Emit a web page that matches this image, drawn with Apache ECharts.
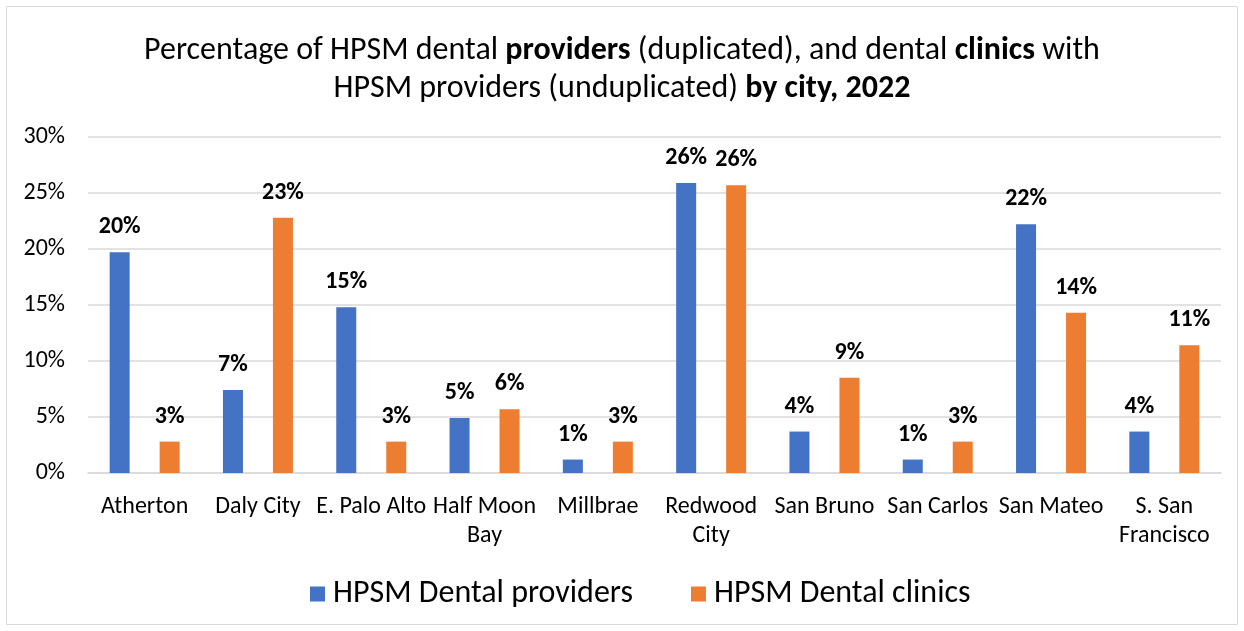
<!DOCTYPE html>
<html>
<head>
<meta charset="utf-8">
<script src="https://cdn.jsdelivr.net/npm/echarts@6/dist/echarts.min.js"></script>
<style>
  html, body { margin: 0; padding: 0; background: #fff; }
  #chart { width: 1244px; height: 631px; }
</style>
</head>
<body>
<div id="chart"></div>
<script>
// cities on the x axis
const cities = ['Atherton', 'Daly City', 'E. Palo Alto', 'Half Moon\nBay', 'Millbrae',
  'Redwood\nCity', 'San Bruno', 'San Carlos', 'San Mateo', 'S. San\nFrancisco']
// percentages
const providers = [19.7, 7.4, 14.8, 4.9, 1.2, 25.9, 3.7, 1.2, 22.2, 3.7]
const clinics = [2.8, 22.8, 2.8, 5.7, 2.8, 25.7, 8.5, 2.8, 14.3, 11.4]
const yTicks = [0, 5, 10, 15, 20, 25, 30]

const font = "Carlito, 'Liberation Sans Narrow', 'Open Sans', sans-serif"

const chart = echarts.init(document.getElementById('chart'))

const barLabel = {
  show: true,
  position: 'top',
  distance: 13,
  fontFamily: font,
  fontSize: 24,
  fontWeight: 'bold',
  color: '#000',
  formatter: p => Math.round(p.value) + '%'
}

chart.setOption({
  animation: false,
  textStyle: { fontFamily: font },
  graphic: [{
    type: 'rect',
    shape: { x: 6.5, y: 6.5, width: 1231, height: 618 },
    style: { fill: 'none', stroke: '#d9d9d9', lineWidth: 1 }
  }],
  title: {
    text: 'Percentage of HPSM dental {b|providers} (duplicated), and dental {b|clinics} with\nHPSM providers (unduplicated) {b|by city, 2022}',
    left: 'center',
    top: 27,
    textStyle: {
      fontFamily: font,
      fontSize: 32,
      fontWeight: 'normal',
      color: '#000',
      lineHeight: 38,
      rich: {
        b: { fontFamily: font, fontSize: 32, fontWeight: 'bold', color: '#000', lineHeight: 38 }
      }
    }
  },
  grid: { left: 88, right: 23, top: 137, bottom: 158, containLabel: false },
  legend: {
    bottom: 16,
    left: 305,
    itemWidth: 15,
    itemHeight: 15,
    itemGap: 58,
    icon: 'rect',
    textStyle: { fontFamily: font, fontSize: 32, color: '#000', padding: [0, 0, 0, 3] },
    data: ['HPSM Dental providers', 'HPSM Dental clinics']
  },
  xAxis: {
    type: 'category',
    data: cities,
    axisLine: { lineStyle: { color: '#d9d9d9', width: 1.5 } },
    axisTick: { show: false },
    axisLabel: {
      interval: 0,
      margin: 19,
      fontFamily: font,
      fontSize: 24,
      color: '#000',
      lineHeight: 29
    }
  },
  yAxis: {
    type: 'value',
    min: yTicks[0],
    max: yTicks[yTicks.length - 1],
    interval: 5,
    axisLine: { show: false },
    axisTick: { show: false },
    splitLine: { lineStyle: { color: '#d9d9d9', width: 1.5 } },
    axisLabel: {
      margin: 23,
      fontFamily: font,
      fontSize: 24,
      color: '#000',
      formatter: '{value}%'
    }
  },
  series: [
    {
      name: 'HPSM Dental providers',
      type: 'bar',
      data: providers,
      barWidth: 20,
      barGap: '150%',
      itemStyle: { color: '#4472c4' },
      label: barLabel
    },
    {
      name: 'HPSM Dental clinics',
      type: 'bar',
      data: clinics,
      barWidth: 20,
      barGap: '150%',
      itemStyle: { color: '#ed7d31' },
      label: barLabel
    }
  ]
})
</script>
</body>
</html>
